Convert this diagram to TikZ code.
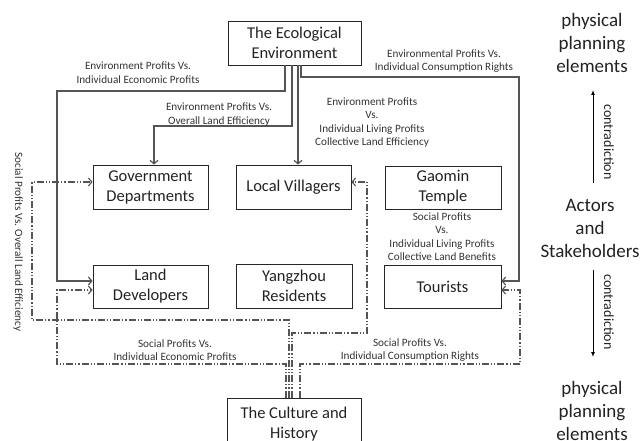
\documentclass[tikz,border=0pt]{standalone}
\usepackage{fontspec}
\setmainfont{Carlito}
\usetikzlibrary{arrows.meta}
\definecolor{linegray}{HTML}{555555}
\definecolor{txt}{HTML}{222222}
\definecolor{labtxt}{HTML}{333333}
\begin{document}
\begin{tikzpicture}[x=1pt,y=-1pt,
  box/.style={draw=black!85,line width=0.8pt,inner sep=0pt,align=center,
    font=\fontsize{16.5}{20}\selectfont,text=txt},
  conn/.style={draw=linegray,line width=1.2pt,-{Straight Barb[length=3.5pt,width=8pt]}},
  dd/.style={conn,line width=1.1pt,dash pattern=on 7pt off 2pt on 1.2pt off 2pt on 1.2pt off 2pt},
  lab/.style={align=center,font=\fontsize{11.2}{13.5}\selectfont,text=labtxt,inner sep=0pt},
  big/.style={align=center,font=\fontsize{19}{23}\selectfont,text=txt,inner sep=0pt},
  contra/.style={font=\fontsize{14}{15}\selectfont,text=txt,rotate=-90,inner sep=0pt},
  bigarrow/.style={draw=black,line width=1pt,-{Latex[length=5pt,width=4pt]}}
]
\useasboundingbox (0,0) rectangle (640,441);
\clip (0,0) rectangle (640,441);

% boxes
\node[box,minimum width=133pt,minimum height=44pt] (eco) at (294.5,43) {The Ecological\\Environment};
\node[box,minimum width=115pt,minimum height=44pt] (gov) at (150.5,187) {Government\\Departments};
\node[box,minimum width=115pt,minimum height=44pt] (vil) at (293.5,187) {Local Villagers};
\node[box,minimum width=116pt,minimum height=43pt] (gao) at (443,187.5) {Gaomin\\Temple};
\node[box,minimum width=115pt,minimum height=43pt] (land) at (150.5,286.5) {Land\\Developers};
\node[box,minimum width=116pt,minimum height=44pt] (yang) at (294,286) {Yangzhou\\Residents};
\node[box,minimum width=117pt,minimum height=43pt] (tour) at (442.5,286.5) {Tourists};
\node[box,minimum width=134pt,minimum height=52pt] (cult) at (294,424) {The Culture and\\History};

% solid connectors from the ecological environment
\draw[conn] ([xshift=-9.5pt]eco.south) |- (57,91) |- ([yshift=5.5pt]land.west);
\draw[conn] ([xshift=-2.5pt]eco.south) |- (154,126) -- ([xshift=3.5pt]gov.north);
\draw[conn] ([xshift=3.5pt]eco.south) -- ([xshift=4.5pt]vil.north);
\draw[conn] ([xshift=6.5pt]eco.south) |- (519,77) |- ([yshift=5.5pt]tour.east);

% dash-dot connectors from the culture and history
\draw[dd] ([xshift=-5pt]cult.north) |- (32,320) |- ([yshift=5pt]gov.west);
\draw[dd] ([xshift=-8pt]cult.north) |- (57,364) |- ([yshift=-3.5pt]land.west);
\draw[dd] ([xshift=-2pt]cult.north) |- (367,333) |- ([yshift=5pt]vil.east);
\draw[dd] ([xshift=6pt]cult.north) |- (520,364) |- ([yshift=-3.5pt]tour.east);

% labels
\node[lab] (l1) at (138,72.5) {Environment Profits Vs.\\Individual Economic Profits};
\node[lab] (l2) at (219,114.5) {Environment Profits Vs.\\Overall Land Efficiency};
\node[lab] (l3) at (372,122.5) {Environment Profits\\Vs.\\Individual Living Profits\\Collective Land Efficiency};
\node[lab] (l4) at (444,61) {Environmental Profits Vs.\\Individual Consumption Rights};
\node[lab] (l5) at (442,236.5) {Social Profits\\Vs.\\Individual Living Profits\\Collective Land Benefits};
\node[lab] (l6) at (175,350) {Social Profits Vs.\\Individual Economic Profits};
\node[lab] (l7) at (410,350) {Social Profits Vs.\\Individual Consumption Rights};
\node[lab,rotate=-90] (l8) at (18,242) {Social Profits Vs. Overall Land Efficiency};

% right column
\node[big] (top) at (592,43) {physical\\planning\\elements};
\node[big] (act) at (590,228) {Actors\\and\\Stakeholders};
\node[big] (bot) at (592,411) {physical\\planning\\elements};
\coordinate (u0) at (593,183);
\coordinate (u1) at (593,90);
\coordinate (d0) at (593,270);
\coordinate (d1) at (593,357);
\draw[bigarrow] (u0) -- (u1);
\draw[bigarrow] (d0) -- (d1);
\node[contra] (c1) at (609,142) {contradiction};
\node[contra] (c2) at (609,312) {contradiction};
\end{tikzpicture}
\end{document}
